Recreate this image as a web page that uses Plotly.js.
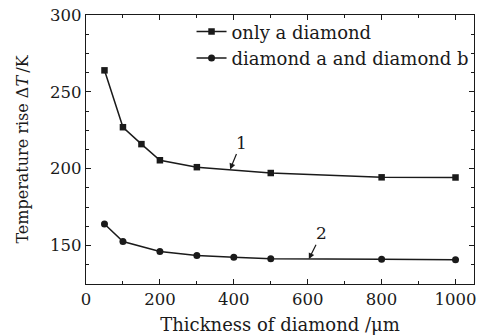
<!DOCTYPE html>
<html>
<head>
<meta charset="utf-8">
<script src="https://cdn.plot.ly/plotly-3.0.1.min.js"></script>
<style>html,body{margin:0;padding:0;background:#fff;}#chart{width:489px;height:336px;}</style>
</head>
<body>
<div id="chart"></div>
<script>
// Data
const seriesNames = ["only a diamond", "diamond a and diamond b"];
const thickness1 = [50, 100, 150, 200, 300, 500, 800, 1000];
const tempRise1 = [264, 227, 216, 205.5, 201, 197.2, 194.4, 194.3];
const thickness2 = [50, 100, 200, 300, 400, 500, 800, 1000];
const tempRise2 = [164, 152.6, 146.2, 143.6, 142.4, 141.4, 141.1, 140.7];
const xTickVals = [0, 200, 400, 600, 800, 1000];
const yTickVals = [150, 200, 250, 300];
const curveLabels = ["1", "2"];

const FONT = "DejaVu Serif, Liberation Serif, serif";
const INK = "#1a1a1a";

const traces = [
  {
    x: thickness1, y: tempRise1, name: seriesNames[0], type: "scatter", mode: "lines+markers",
    line: {color: INK, width: 1.5},
    marker: {symbol: "square", size: 6.5, color: INK}
  },
  {
    x: thickness2, y: tempRise2, name: seriesNames[1], type: "scatter", mode: "lines+markers",
    line: {color: INK, width: 1.5},
    marker: {symbol: "circle", size: 7, color: INK}
  }
];

const axisCommon = {
  showgrid: false, zeroline: false, showline: true, linecolor: INK, linewidth: 1.2,
  ticks: "inside", ticklen: 5, tickwidth: 1, tickcolor: INK, mirror: "allticks",
  tickfont: {family: FONT, size: 16.5, color: INK}
};

const layout = {
  width: 489, height: 336,
  margin: {l: 86, r: 15, t: 15, b: 52},
  paper_bgcolor: "#ffffff", plot_bgcolor: "#ffffff",
  font: {family: FONT, size: 16, color: INK},
  showlegend: true,
  legend: {
    x: 0.272, y: 1.006, xanchor: "left", yanchor: "top",
    bgcolor: "rgba(0,0,0,0)", borderwidth: 0,
    font: {family: FONT, size: 18, color: INK},
    tracegroupgap: 0, itemwidth: 30
  },
  xaxis: Object.assign({}, axisCommon, {
    range: [0, 1050], tickvals: xTickVals,
    minor: {dtick: 100, ticks: "inside", ticklen: 3, tickcolor: INK, showgrid: false},
    title: {text: "Thickness of diamond /μm", font: {family: FONT, size: 18, color: INK}, standoff: 10}
  }),
  yaxis: Object.assign({}, axisCommon, {
    range: [125, 300], tickvals: yTickVals,
    minor: {dtick: 12.5, ticks: "inside", ticklen: 3, tickcolor: INK, showgrid: false},
    title: {text: "Temperature rise Δ<i>T</i>\u2009/K", font: {family: FONT, size: 16, color: INK}, standoff: 17}
  }),
  annotations: [
    {x: 390, y: 199.5, ax: 420, ay: 217, xref: "x", yref: "y", axref: "x", ayref: "y",
     text: curveLabels[0], showarrow: true, arrowhead: 2, arrowsize: 1, arrowwidth: 1.2, arrowcolor: INK,
     font: {family: FONT, size: 17, color: INK}},
    {x: 603, y: 141.2, ax: 638, ay: 158, xref: "x", yref: "y", axref: "x", ayref: "y",
     text: curveLabels[1], showarrow: true, arrowhead: 2, arrowsize: 1, arrowwidth: 1.2, arrowcolor: INK,
     font: {family: FONT, size: 17, color: INK}}
  ]
};

Plotly.newPlot("chart", traces, layout, {displayModeBar: false, staticPlot: true});
</script>
</body>
</html>
